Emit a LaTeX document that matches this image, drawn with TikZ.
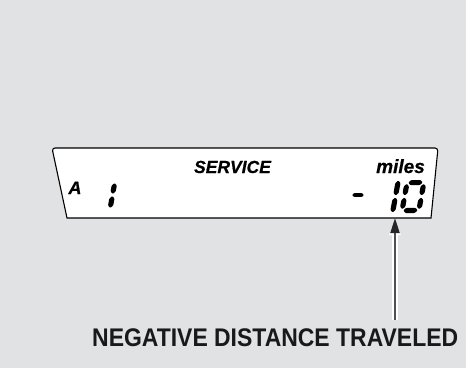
\documentclass[tikz,border=0pt]{standalone}
\usepackage{fontspec}
\setmainfont{Liberation Sans}
\newfontfamily\lcdfont{Liberation Sans}[BoldItalicFeatures={FakeBold=0.6}]
\usetikzlibrary{arrows.meta}
\definecolor{bg}{RGB}{225,226,228}
\definecolor{linegray}{RGB}{80,80,80}
\def\sh{2.6}
% horizontal segment: u1,u2,v (v measured upwards)
\newcommand{\hseg}[3]{\fill[rounded corners=0.8pt] (#1,-#3) -- ({#1+\sh},{-#3-\sh}) -- ({#2-\sh},{-#3-\sh}) -- (#2,-#3) -- ({#2-\sh},{-#3+\sh}) -- ({#1+\sh},{-#3+\sh}) -- cycle;}
% vertical segment: u,v1,v2
\newcommand{\vseg}[3]{\fill[rounded corners=0.8pt] (#1,-#2) -- ({#1+\sh},{-#2-\sh}) -- ({#1+\sh},{-#3+\sh}) -- (#1,-#3) -- ({#1-\sh},{-#3+\sh}) -- ({#1-\sh},{-#2-\sh}) -- cycle;}
\tikzset{
  lcdtext/.style={inner sep=0pt, font=\lcdfont\fontsize{17.5}{17.5}\selectfont\bfseries\itshape, text=black},
  caption/.style={inner sep=0pt, font=\fontsize{25.5}{25.5}\selectfont\bfseries, text=black!90},
  boxline/.style={draw=black, line width=1.1pt, fill=white},
  digit/.style={xslant=0.18}
}
\begin{document}
\begin{tikzpicture}[x=1pt,y=-1pt]
\useasboundingbox (0,0) rectangle (466,368);
\fill[bg] (0,0) rectangle (466,368);
% arrow halo
\coordinate (tip) at (395,218);
\coordinate (tail) at (395,320);
\draw[white, line width=5.5pt] (tail) -- (395,232);
\fill[white] (395,222) -- (401,235) -- (389,235) -- cycle;
% display box
\draw[boxline] (431,218) -- (67,218) [rounded corners=3pt] -- (52,148) -- (438,148) [sharp corners] -- (431,218) -- cycle;
% arrow
\draw[linegray, line width=2pt, -{Triangle[length=15pt,width=9pt,color=black!85]}] (tail) -- (tip);
% texts
\node[lcdtext, anchor=base] (service) at (232.5,173) {SERVICE};
\node[lcdtext, anchor=base, font=\lcdfont\fontsize{19}{19}\selectfont\bfseries\itshape] (miles) at (400.5,173) {miles};
\node[lcdtext, anchor=base, font=\lcdfont\fontsize{18}{18}\selectfont\bfseries\itshape] (lettera) at (75,194) {A};
\node[caption, anchor=base west] (negative) at (92,346) {\scalebox{0.9}[1]{NEGATIVE DISTANCE TRAVELED}};
% left digit 1
\begin{scope}[shift={(110,209)}, digit]
  \vseg{0}{1}{13}
  \vseg{0}{15}{26}
\end{scope}
% minus sign
\begin{scope}
  \def\sh{1.9}
  \hseg{352}{364}{-195}
\end{scope}
% digit 1 of 10
\begin{scope}[shift={(392.5,213)}, digit]
  \vseg{0}{0.5}{15.5}
  \vseg{0}{17.5}{32.5}
\end{scope}
% digit 0 of 10
\begin{scope}[shift={(399,213)}, digit]
  \hseg{3.8}{18.2}{2.6}
  \hseg{3.8}{18.2}{30.4}
  \vseg{2.6}{3.8}{15.5}
  \vseg{2.6}{17.5}{29.2}
  \vseg{19.4}{3.8}{15.5}
  \vseg{19.4}{17.5}{29.2}
\end{scope}
\end{tikzpicture}
\end{document}
